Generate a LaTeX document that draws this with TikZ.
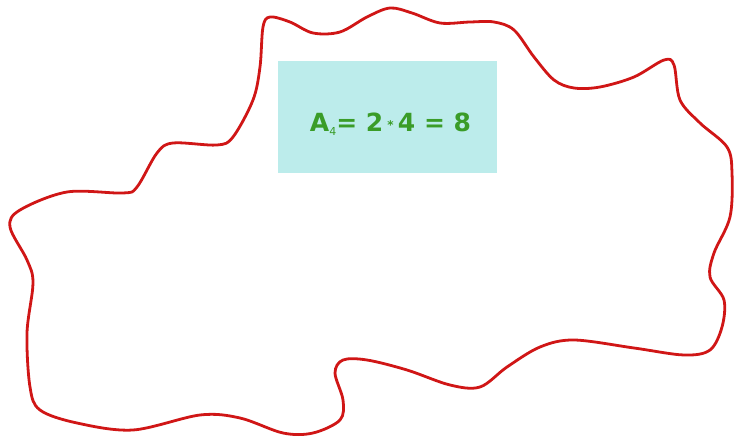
\documentclass[tikz,border=0pt]{standalone}
\usepackage{fontspec}
\setsansfont{DejaVu Sans}
\definecolor{blobred}{RGB}{208,22,22}
\definecolor{boxcyan}{RGB}{188,236,235}
\definecolor{formgreen}{RGB}{58,156,40}
\begin{document}
\begin{tikzpicture}[x=1pt, y=-1pt]
	% khung hinh giu ti le 734 x 443
	\useasboundingbox (0,0) rectangle (734,443);
	% duong bao luon song mau do
	\draw[line width=2.8pt, draw=blobred, line join=round] plot[smooth cycle, tension=0.55] coordinates {
		(270,17) (290,22) (313,33) (340,32) (367,17) (390,8) (412,13) (440,23) (470,22) (494,22)
		(514,30) (534,57) (554,80) (574,88) (600,87) (634,77) (664,60) (674,65) (680,100) (700,123)
		(727,147) (732,173) (730,217) (714,253) (710,277) (724,300) (722,327) (710,350) (684,355) (634,348)
		(574,340) (540,347) (507,367) (480,387) (450,385) (407,370) (367,360) (343,360) (335,373) (343,400)
		(340,420) (313,433) (283,433) (240,418) (200,415) (133,430) (77,423) (40,410) (30,387) (27,333)
		(33,283) (27,260) (10,227) (20,210) (67,192) (123,193) (137,187) (157,153) (173,143) (217,145)
		(233,137) (253,100) (260,67) (263,27)};
	% o cong thuc
	\node[fill=boxcyan, minimum width=219pt, minimum height=112pt, inner sep=0pt] (area) at (387.5,117) {};
	\node[font=\sffamily\bfseries\fontsize{25}{28}\selectfont, text=formgreen, anchor=base, inner sep=0pt] (formula) at (390.5,132)
		{A\raisebox{-4pt}{\fontsize{11}{11}\selectfont\mdseries 4}= 2\,\raisebox{2.5pt}{\fontsize{12}{12}\selectfont *}\,4 = 8};
\end{tikzpicture}
\end{document}
